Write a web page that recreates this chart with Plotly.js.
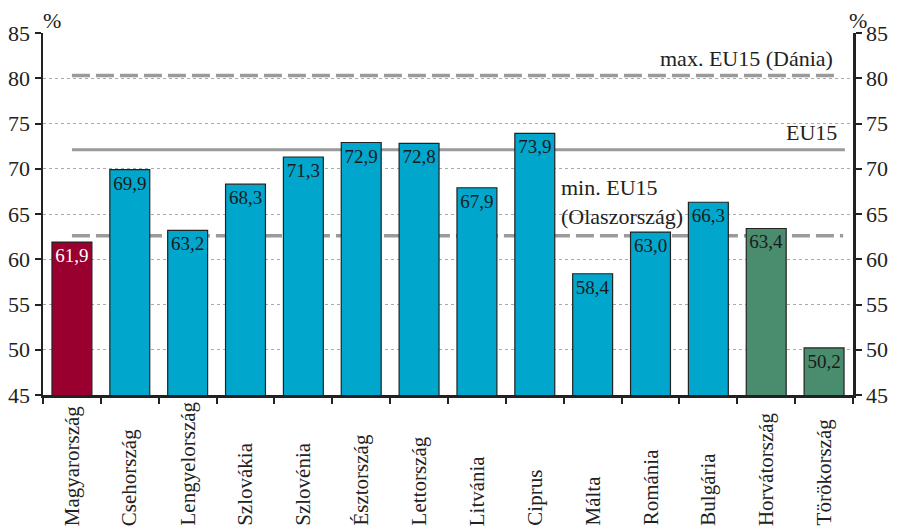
<!DOCTYPE html>
<html><head><meta charset="utf-8">
<script src="https://cdn.plot.ly/plotly-3.0.1.min.js"></script>
<style>body{margin:0;background:#fff}#c{width:909px;height:531px}</style>
</head><body><div id="c"></div>
<script>
const countries = ["Magyarország","Csehország","Lengyelország","Szlovákia","Szlovénia","Észtország","Lettország","Litvánia","Ciprus","Málta","Románia","Bulgária","Horvátország","Törökország"];
const values = [61.9,69.9,63.2,68.3,71.3,72.9,72.8,67.9,73.9,58.4,63.0,66.3,63.4,50.2];
const groups = ["hu","new","new","new","new","new","new","new","new","new","new","new","cand","cand"];
const refNames = ["max. EU15 (Dánia)","EU15","min. EU15<br>(Olaszország)"];
const refValues = [80.3,72.1,62.6];
const yTicks = [45,50,55,60,65,70,75,80,85];

const colorMap = {hu:"#990030", new:"#00A6CB", cand:"#4A8C6E"};
const textColorMap = {hu:"#ffffff", new:"#1a1a1a", cand:"#1a1a1a"};
const font = "Liberation Serif, Times New Roman, serif";

const trace = {
  type:"bar", x:countries, y:values,
  marker:{color:groups.map(g=>colorMap[g]), line:{color:"#222", width:1.2}},
  width:0.69,
  texttemplate:"%{y:.1f}", textposition:"inside", insidetextanchor:"end",
  constraintext:"none",
  textfont:{family:font, size:19, color:groups.map(g=>textColorMap[g])},
  hoverinfo:"none", cliponaxis:false
};

const lineStyle = [
  {dash:"18px,6px", width:3.5, x1:13.19},
  {dash:"solid", width:3, x1:13.36},
  {dash:"18px,6px", width:3.5, x1:13.33}
];
const shapes = refValues.map((v,i)=>({
  type:"line", xref:"x", yref:"y", x0:0, x1:lineStyle[i].x1, y0:v, y1:v,
  line:{color:"#9a9a9a", width:lineStyle[i].width, dash:lineStyle[i].dash}, layer:"below"
}));

const annFont = {family:font,size:22,color:"#222"};
const annotations = [
  {text:refNames[0], x:13.19, y:refValues[0], xref:"x", yref:"y", xanchor:"right", yanchor:"bottom", yshift:3, showarrow:false, font:annFont},
  {text:refNames[1], x:13.25, y:refValues[1], xref:"x", yref:"y", xanchor:"right", yanchor:"bottom", yshift:3, showarrow:false, font:annFont},
  {text:refNames[2], x:8.42, y:refValues[2], xref:"x", yref:"y", xanchor:"left", yanchor:"bottom", yshift:5, align:"left", showarrow:false, font:annFont},
  {text:"%", xref:"paper", yref:"paper", x:0.011, y:1.0, xanchor:"center", yanchor:"bottom", yshift:-2, showarrow:false, font:annFont},
  {text:"%", xref:"paper", yref:"paper", x:1.006, y:1.0, xanchor:"center", yanchor:"bottom", yshift:-2, showarrow:false, font:annFont}
];
// category labels, rotated and aligned at their bottom end (as in the reference, partly below the visible area)
countries.forEach(c=>{
  annotations.push({text:c, x:c, xref:"x", yref:"paper", y:-0.367, xanchor:"center", yanchor:"bottom",
    textangle:-90, showarrow:false, font:{family:font,size:21,color:"#222"}});
});

const yax = {
  range:[45,85], tickvals:yTicks, ticks:"outside", ticklen:6, tickwidth:2, tickcolor:"#222",
  showline:true, linecolor:"#222", linewidth:2.5, showgrid:true, gridcolor:"#aaaaaa",
  griddash:"dot", gridwidth:1, zeroline:false,
  tickfont:{family:font, size:22, color:"#222"}, fixedrange:true
};
const layout = {
  width:909, height:531,
  margin:{l:43, r:56, t:33, b:136},
  paper_bgcolor:"#fff", plot_bgcolor:"#fff",
  separators:", ",
  showlegend:false, bargap:0.31,
  xaxis:{type:"category", tickangle:-90, tickson:"boundaries", ticks:"outside", ticklen:6, tickwidth:2, tickcolor:"#222",
    showline:true, linecolor:"#222", linewidth:2.5, showgrid:false, showticklabels:false, range:[-0.5,13.5]},
  yaxis:yax,
  yaxis2:Object.assign({}, yax, {overlaying:"y", side:"right", showgrid:false, anchor:"x"}),
  shapes:shapes, annotations:annotations
};
const dummy = {type:"scatter", x:[countries[0]], y:[45], yaxis:"y2", mode:"markers", marker:{opacity:0}, hoverinfo:"none"};
Plotly.newPlot("c",[trace,dummy],layout,{staticPlot:true});
</script></body></html>
